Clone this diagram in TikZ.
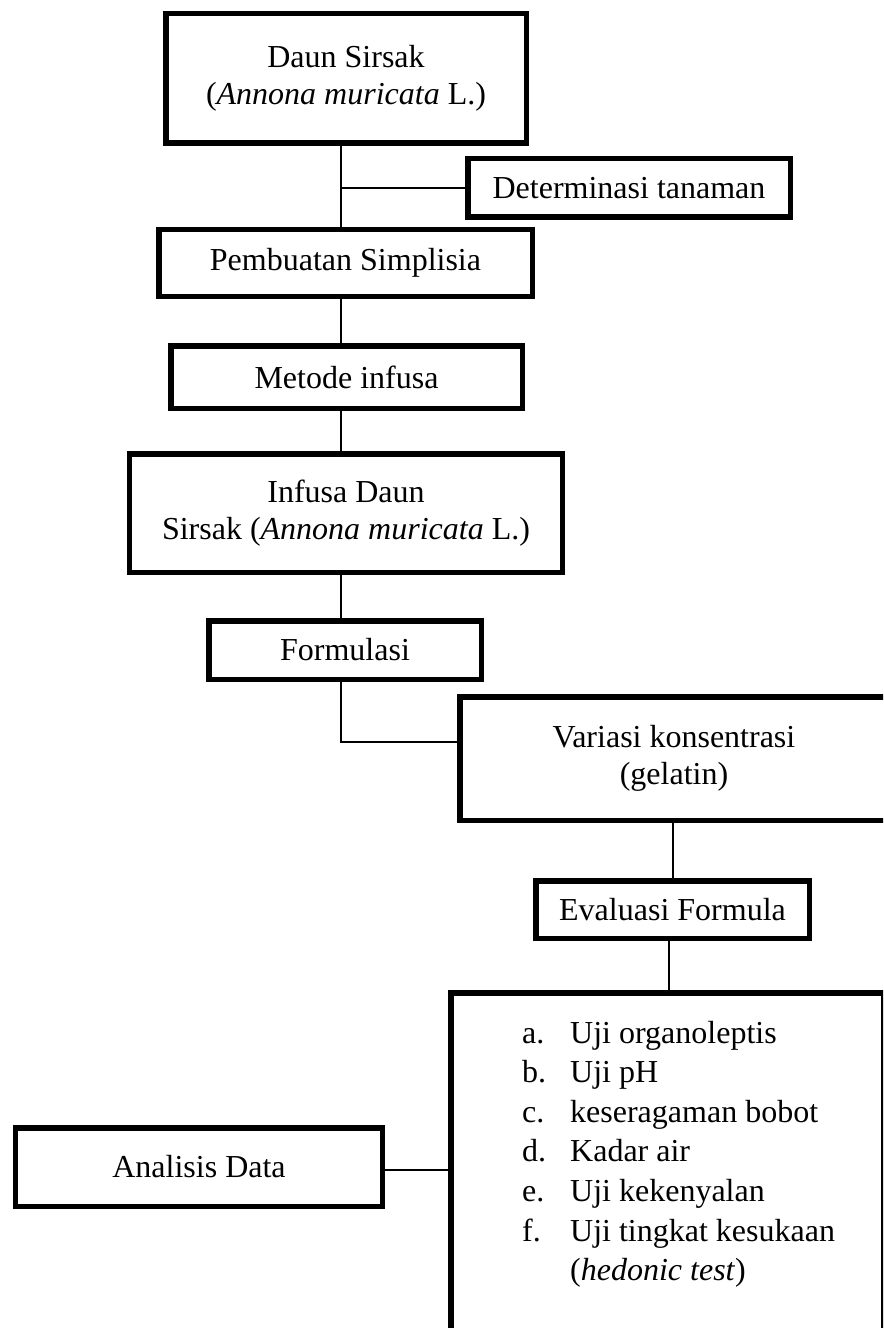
\documentclass[tikz,border=0pt]{standalone}
\usepackage{fontspec}
\setmainfont{Liberation Serif}
\usepackage{array}
\begin{document}
\begin{tikzpicture}[x=1bp,y=-1bp,
  box/.style={draw, line width=5.5bp, inner sep=0pt, align=center,
              font=\fontsize{32bp}{37bp}\selectfont},
  link/.style={line width=2.5bp}]
\path[use as bounding box, clip] (0,0) rectangle (883,1328);
\fill[white] (0,0) rectangle (883,1328);

% main column
\node[box, minimum width=360.5bp, minimum height=129.5bp] (daun) at (346,78.5)
  {Daun Sirsak\\(\textit{Annona muricata} L.)};
\node[box, minimum width=322.5bp, minimum height=58.5bp] (det) at (629,188)
  {Determinasi tanaman};
\node[box, minimum width=373.5bp, minimum height=66.5bp] (pemb) at (345.5,263)
  {Pembuatan Simplisia};
\node[box, minimum width=351.5bp, minimum height=62.5bp] (metode) at (346.5,377)
  {Metode infusa};
\node[box, minimum width=432.5bp, minimum height=118.5bp] (infusa) at (346,513)
  {Infusa Daun\\Sirsak (\textit{Annona muricata} L.)};
\node[box, minimum width=272.5bp, minimum height=58.5bp] (formulasi) at (345,650)
  {Formulasi};
\node[box, minimum width=428.5bp, minimum height=123.5bp] (variasi) at (674,758.5)
  {Variasi konsentrasi\\(gelatin)};
\node[box, minimum width=273.5bp, minimum height=57.5bp] (evaluasi) at (672.5,909.5)
  {Evaluasi Formula};
\node[box, minimum width=432.5bp, minimum height=344.5bp] (list) at (667,1165) {};
\node[anchor=base west, inner sep=0pt, font=\fontsize{32bp}{39.6bp}\selectfont]
  (items) at (522,1043)
  {\begin{tabular}[t]{@{}p{48bp}@{}l@{}}
   a. & Uji organoleptis\\
   b. & Uji pH\\
   c. & keseragaman bobot\\
   d. & Kadar air\\
   e. & Uji kekenyalan\\
   f. & Uji tingkat kesukaan\\
      & (\textit{hedonic test})
   \end{tabular}};
\node[box, minimum width=366.5bp, minimum height=78.5bp] (analisis) at (199,1167)
  {Analisis Data};

% connectors
\coordinate (t) at (341,0);
\coordinate (elbow) at (341,742);
\draw[link] (daun.south -| t) -- (pemb.north -| t);
\draw[link] (t |- det.west) -- (det.west);
\draw[link] (pemb.south -| t) -- (metode.north -| t);
\draw[link] (metode.south -| t) -- (infusa.north -| t);
\draw[link] (infusa.south -| t) -- (formulasi.north -| t);
\draw[link] (formulasi.south -| t) -- (elbow) -- (elbow -| variasi.west);
\coordinate (c2) at (673,0);
\coordinate (c3) at (669,0);
\draw[link] (variasi.south -| c2) -- (evaluasi.north -| c2);
\draw[link] (evaluasi.south -| c3) -- (list.north -| c3);
\coordinate (h) at (0,1170);
\draw[link] (analisis.east |- h) -- (list.west |- h);
\end{tikzpicture}
\end{document}
